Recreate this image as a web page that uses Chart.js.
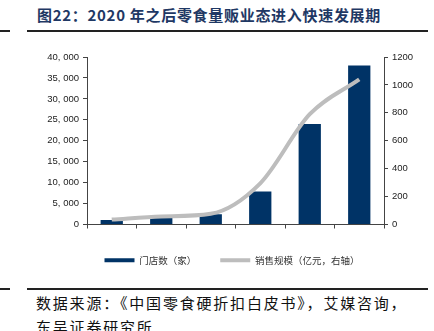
<!DOCTYPE html>
<html>
<head>
<meta charset="utf-8">
<script src="https://cdn.jsdelivr.net/npm/chart.js@4.4.1/dist/chart.umd.min.js"></script>
<style>
  body { margin: 0; background: #fff; }
  #wrap { position: relative; width: 434px; height: 331px; overflow: hidden; }
  #c { position: absolute; left: 0; top: 0; }
  .title { position: absolute; left: 37px; top: 4px; font-family: "Noto Sans CJK SC"; font-weight: bold; font-size: 15px; letter-spacing: 0.7px; color: #1f3864; white-space: nowrap; }
  .rule { position: absolute; height: 1.5px; background: #222; }
  .src { position: absolute; left: 36px; font-family: "Noto Sans CJK SC"; font-size: 15px; letter-spacing: 1.8px; color: #111; white-space: nowrap; }
</style>
</head>
<body>
<div id="wrap">
  <div class="title">图22：2020 年之后零食量贩业态进入快速发展期</div>
  <div class="rule" style="left:0;width:10px;top:30px"></div>
  <div class="rule" style="left:27px;width:401px;top:30px"></div>
  <div class="rule" style="left:0;width:10px;top:288px"></div>
  <div class="rule" style="left:27px;width:401px;top:288px"></div>
  <div class="src" style="top:292px">数据来源：《中国零食硬折扣白皮书》，艾媒咨询，</div>
  <div class="src" style="top:316px">东吴证券研究所</div>
  <canvas id="c" width="434" height="276"></canvas>
</div>
<script>
// 연도 / 门店数 / 销售规模
const years = ['2017', '2020', '2021', '2022', '2023', '2024'];
const storeCount = [1100, 1550, 2450, 7900, 24000, 38000];
const salesScale = [35, 58, 77, 295, 790, 1040];
const seriesNames = ['门店数（家）', '销售规模（亿元，右轴）'];

const navy = '#003366';
const grey = '#bdbdbd';
const axisColor = '#444';
const tickFont = { family: 'Liberation Sans, Arial', size: 9.5 };

function fmt(v) {
	return String(v).replace(/\B(?=(\d{3})+(?!\d))/g, ', ');
}

// 범례를 오른쪽으로 조금 이동
const shiftLegend = {
	id: 'shiftLegend',
	beforeDraw: function(chart) {
		var lg = chart.legend;
		if (!lg || lg._shifted) return;
		var orig = lg.draw.bind(lg);
		lg.draw = function() {
			chart.ctx.save();
			chart.ctx.translate(15, 0);
			orig();
			chart.ctx.restore();
		};
		lg._shifted = true;
	}
};

const data = {
	labels: years,
	datasets: [{
		type: 'bar',
		label: seriesNames[0],
		data: storeCount,
		backgroundColor: navy,
		borderWidth: 0,
		categoryPercentage: 1,
		barPercentage: 0.45,
		yAxisID: 'y',
		order: 1
	}, {
		type: 'line',
		label: seriesNames[1],
		data: salesScale,
		borderColor: grey,
		backgroundColor: grey,
		borderWidth: 4,
		pointRadius: 0,
		cubicInterpolationMode: 'monotone',
		yAxisID: 'y1',
		order: 0
	}]
};

new Chart(document.getElementById('c'), {
	data: data,
	plugins: [shiftLegend],
	options: {
		responsive: false,
		animation: false,
		layout: { padding: { top: 57, left: 0, right: 0, bottom: 1 } },
		plugins: {
			tooltip: { enabled: false },
			legend: {
				position: 'bottom',
				labels: {
					boxWidth: 30,
					boxHeight: 4,
					padding: 24,
					color: '#333',
					font: { family: 'Noto Sans CJK SC', size: 9.5 },
					sort: function(a, b) { return a.datasetIndex - b.datasetIndex; },
					generateLabels: function(chart) {
						return Chart.defaults.plugins.legend.labels.generateLabels(chart).map(function(l) {
							l.lineWidth = 0;
							return l;
						});
					}
				}
			}
		},
		scales: {
			x: {
				grid: { display: true, drawOnChartArea: false, offset: true, tickLength: 4, color: axisColor },
				border: { color: axisColor, width: 1 },
				ticks: { color: '#222', font: tickFont, padding: 2 },
				afterFit: function(s) { s.height = 7; }
			},
			y: {
				position: 'left',
				min: 0, max: 40000,
				grid: { drawOnChartArea: false, tickLength: 4, color: axisColor },
				border: { color: axisColor, width: 1 },
				ticks: { stepSize: 5000, color: '#222', font: tickFont, padding: 4, callback: function(v) { return fmt(v); } },
				afterFit: function(s) { s.width = 87; }
			},
			y1: {
				position: 'right',
				min: 0, max: 1200,
				grid: { drawOnChartArea: false, tickLength: 4, color: axisColor },
				border: { color: axisColor, width: 1 },
				ticks: { stepSize: 200, color: '#222', font: tickFont, padding: 4, callback: function(v) { return String(v); } },
				afterFit: function(s) { s.width = 50; }
			}
		}
	}
});
</script>
</body>
</html>
